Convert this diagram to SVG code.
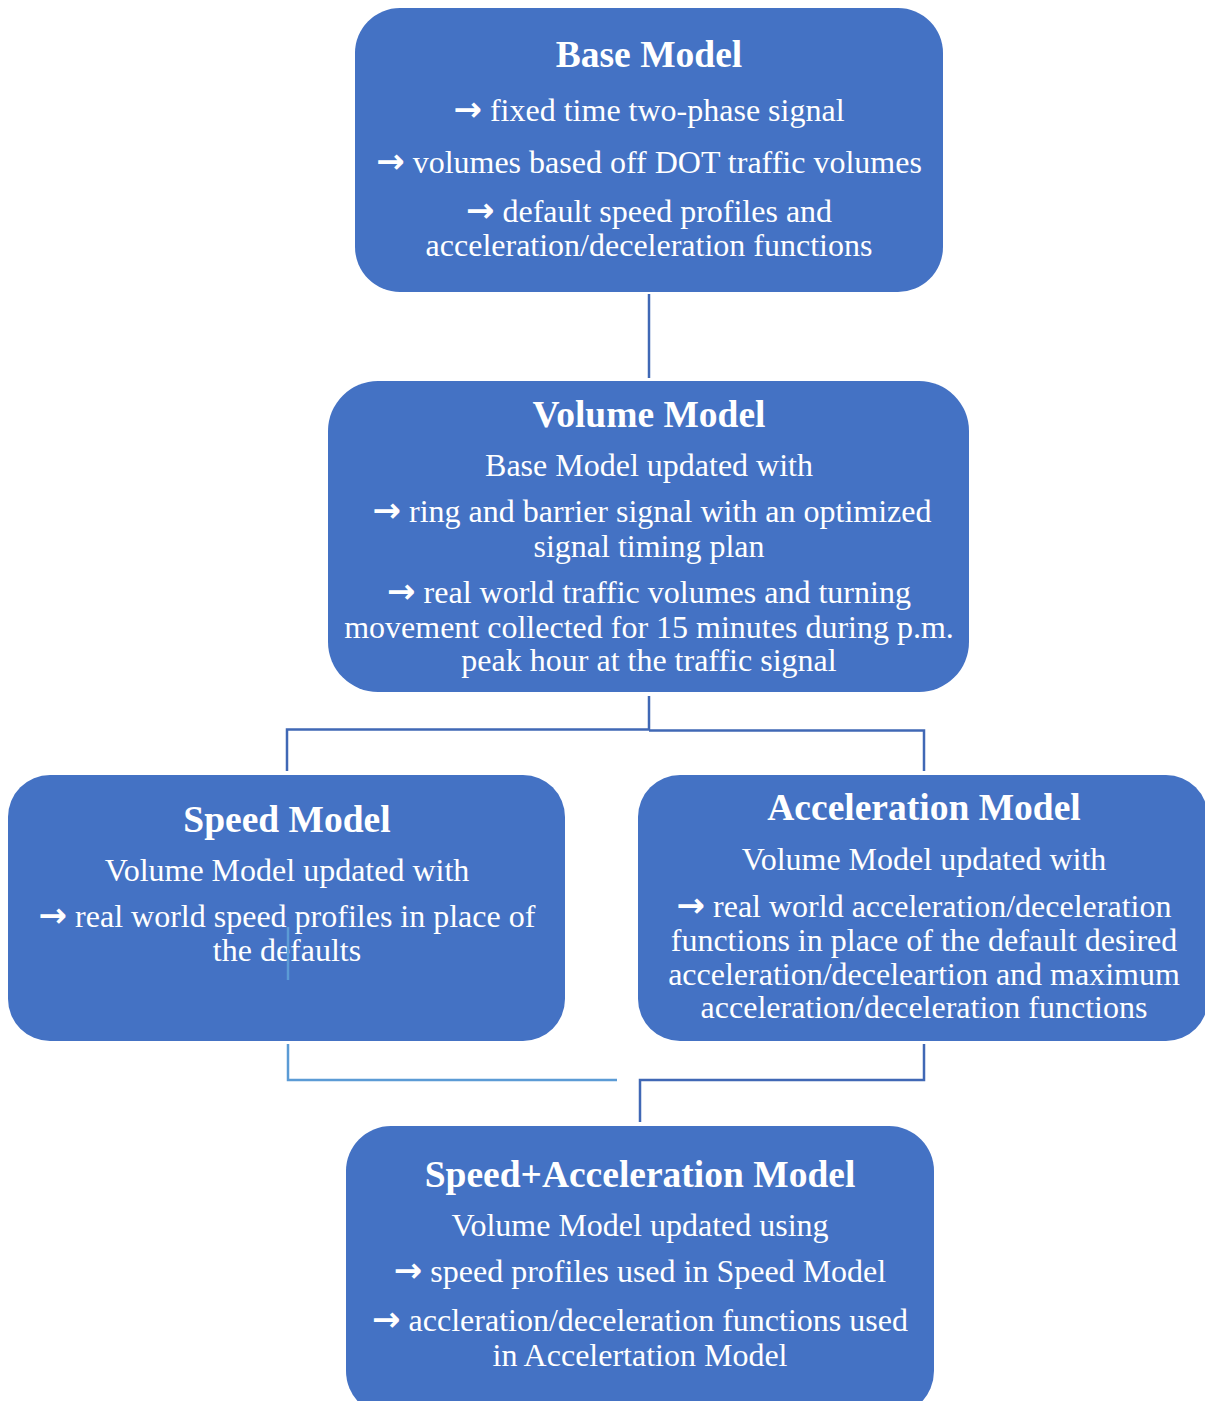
<svg xmlns="http://www.w3.org/2000/svg" width="1205" height="1401" viewBox="0 0 1205 1401">
<style>
.box{fill:#4472C4;}
.t{font-family:"Liberation Serif","Times New Roman",serif;fill:#ffffff;text-anchor:middle;}
.h{font-size:37.5px;font-weight:bold;}
.b{font-size:32px;}
.ar{font-family:"Noto Sans","DejaVu Sans",sans-serif;font-weight:bold;font-size:34px;}
.c{fill:none;stroke:#4068B5;stroke-width:2.5;}
.cl{fill:none;stroke:#5B9BD5;stroke-width:2.5;}
</style>
<rect width="1205" height="1401" fill="#ffffff"/>
<g id="connectors">
<path class="c" d="M649 294 V378"/>
<path class="c" d="M649 696 V730 M287 771 V729.5 H649 M649 730.5 H924 V771"/>
<path class="cl" d="M288 1044 V1080 H617"/>
<path class="c" d="M924 1044 V1080 H640 V1122"/>
</g>
<g id="base">
<rect class="box" x="355" y="8" width="588" height="284" rx="45"/>
<text class="t h" x="649" y="67">Base Model</text>
<text class="t b" x="649" y="121"><tspan class="ar">→</tspan> fixed time two-phase signal</text>
<text class="t b" x="649" y="173"><tspan class="ar">→</tspan> volumes based off DOT traffic volumes</text>
<text class="t b" x="649" y="222"><tspan class="ar">→</tspan> default speed profiles and</text>
<text class="t b" x="649" y="256">acceleration/deceleration functions</text>
</g>
<g id="volume">
<rect class="box" x="328" y="381" width="641" height="311" rx="50"/>
<text class="t h" x="649" y="427">Volume Model</text>
<text class="t b" x="649" y="476">Base Model updated with</text>
<text class="t b" x="652" y="522"><tspan class="ar">→</tspan> ring and barrier signal with an optimized</text>
<text class="t b" x="649" y="557">signal timing plan</text>
<text class="t b" x="649" y="603"><tspan class="ar">→</tspan> real world traffic volumes and turning</text>
<text class="t b" x="649" y="638">movement collected for 15 minutes during p.m.</text>
<text class="t b" x="649" y="671">peak hour at the traffic signal</text>
</g>
<g id="speed">
<rect class="box" x="8" y="775" width="557" height="266" rx="42"/>
<text class="t h" x="287" y="832">Speed Model</text>
<text class="t b" x="287" y="881">Volume Model updated with</text>
<text class="t b" x="287" y="927"><tspan class="ar">→</tspan> real world speed profiles in place of</text>
<text class="t b" x="287" y="961">the defaults</text>
<path class="cl" d="M288 927 V980" stroke-width="2"/>
</g>
<g id="acceleration">
<rect class="box" x="638" y="775" width="570" height="266" rx="42"/>
<text class="t h" x="924" y="820">Acceleration Model</text>
<text class="t b" x="924" y="870">Volume Model updated with</text>
<text class="t b" x="924" y="917"><tspan class="ar">→</tspan> real world acceleration/deceleration</text>
<text class="t b" x="924" y="951">functions in place of the default desired</text>
<text class="t b" x="924" y="985">acceleration/deceleartion and maximum</text>
<text class="t b" x="924" y="1018">acceleration/deceleration functions</text>
</g>
<g id="speed-acceleration">
<rect class="box" x="346" y="1126" width="588" height="290" rx="45"/>
<text class="t h" x="640" y="1187">Speed+Acceleration Model</text>
<text class="t b" x="640" y="1236">Volume Model updated using</text>
<text class="t b" x="640" y="1282"><tspan class="ar">→</tspan> speed profiles used in Speed Model</text>
<text class="t b" x="640" y="1331"><tspan class="ar">→</tspan> accleration/deceleration functions used</text>
<text class="t b" x="640" y="1366">in Accelertation Model</text>
</g>
</svg>
